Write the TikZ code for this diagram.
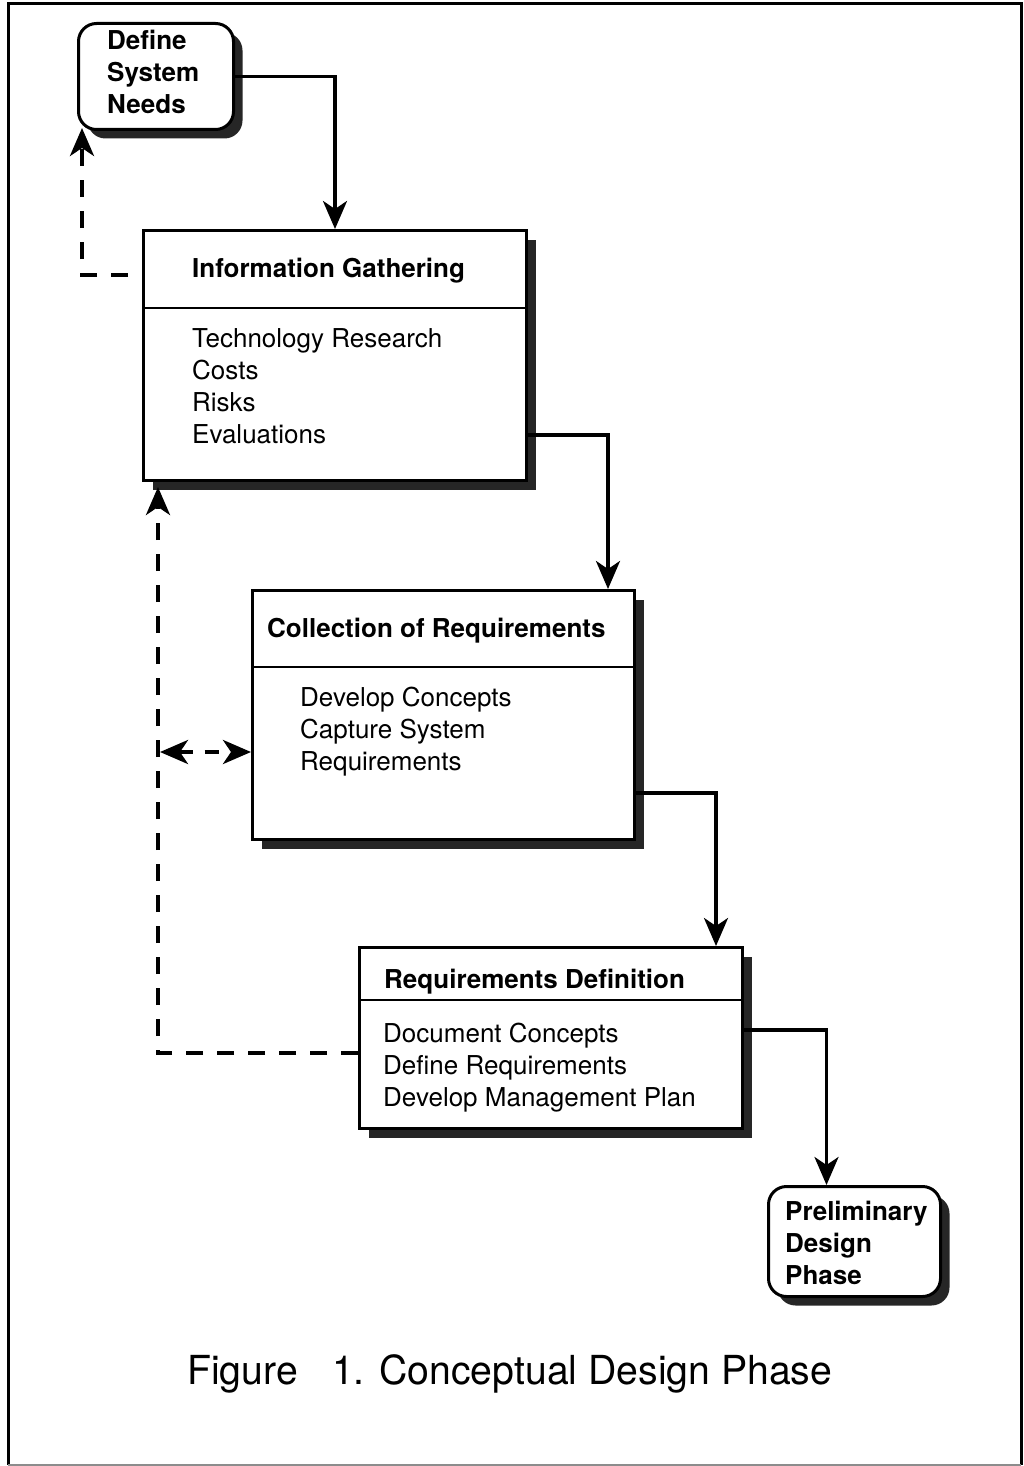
\documentclass[tikz,border=0pt]{standalone}
\usepackage{fontspec}
\setmainfont{TeX Gyre Heros}
\usetikzlibrary{arrows.meta,shadows,calc}

\tikzset{
  flowtip/.tip={Stealth[length=28pt,width=24pt,inset=8pt]},
  shadowed/.style={drop shadow={shadow xshift=9pt,shadow yshift=-9pt,fill=black!85,opacity=1}},
  stagebox/.style={draw,line width=3pt,fill=white,shadowed,anchor=north west,inner sep=0pt},
  endbox/.style={stagebox,rounded corners=18pt},
  rule/.style={line width=2.6pt},
  flow/.style={line width=3.4pt,-flowtip},
  feedback/.style={line width=4pt,dash pattern=on 17pt off 14pt,-flowtip},
  title/.style={font=\fontsize{26}{32}\selectfont\bfseries,anchor=base west,inner sep=0pt},
  items/.style={font=\fontsize{26}{32}\selectfont,align=left,anchor=base west,inner sep=0pt},
  endtext/.style={font=\fontsize{26}{32}\selectfont\bfseries,align=left,anchor=base west,inner sep=0pt},
}

\begin{document}
\begin{tikzpicture}[x=1pt,y=-1pt]
  \useasboundingbox (0,0) rectangle (1024,1466);
  \fill[white] (0,0) rectangle (1024,1466);

  % page frame
  \draw[line width=3pt] (1021,1465) -- (1021,4) -- (8,4) -- (8,1465);
  \draw[line width=2pt,black!45] (8,1465) -- (1021,1465);

  % start and end terminals (anchor: baseline of the last line)
  \node[endbox,minimum width=155pt,minimum height=106pt] (dsn) at (77,22) {};
  \node[endtext] (dsntext) at (107,114) {Define\\System\\Needs};

  \node[endbox,minimum width=172pt,minimum height=110pt] (pdp) at (767,1185) {};
  \node[endtext] (pdptext) at (785,1284) {Preliminary\\Design\\Phase};

  % stage boxes
  \node[stagebox,minimum width=383pt,minimum height=250pt] (info) at (142,229) {};
  \draw[rule] (info.west |- 0,308) -- (info.east |- 0,308);
  \node[title] (infotitle) at (192,277) {Information Gathering};
  \node[items] (infoitems) at (192,443) {Technology Research\\Costs\\Risks\\Evaluations};

  \node[stagebox,minimum width=382pt,minimum height=249pt] (coll) at (251,589) {};
  \draw[rule] (coll.west |- 0,667) -- (coll.east |- 0,667);
  \node[title] (colltitle) at (267,637) {Collection of Requirements};
  \node[items] (collitems) at (300,770) {Develop Concepts\\Capture System\\Requirements};

  \node[stagebox,minimum width=383pt,minimum height=181pt] (rdef) at (358,946) {};
  \draw[rule] (rdef.west |- 0,1000) -- (rdef.east |- 0,1000);
  \node[title] (rdeftitle) at (384,988) {Requirements Definition};
  \node[items] (rdefitems) at (383,1106) {Document Concepts\\Define Requirements\\Develop Management Plan};

  % forward flow
  \draw[flow] (dsn.east) -| (info.north);
  \draw[flow] ([yshift=47pt]info.south east) -| ([xshift=-28pt]coll.north east);
  \draw[flow] ([yshift=48pt]coll.south east) -| ([xshift=-28pt]rdef.north east);
  \draw[flow] ([yshift=100pt]rdef.south east) -| ([xshift=-28pt]pdp.north);

  % feedback paths
  \draw[feedback,dash phase=17pt] ([yshift=-46pt]info.north west) -| ([xshift=5pt,yshift=3pt]dsn.south west);
  \draw[feedback,dash phase=0pt] ([yshift=77pt]rdef.south west) -| ([xshift=16pt,yshift=-5pt]info.south west);
  \coordinate (tap) at (160,752);
  \draw[line width=4pt,dash pattern=on 14pt off 12pt,flowtip-flowtip] (tap) -- (coll.west |- tap);

  % caption
  \node[font=\fontsize{40}{48}\selectfont,anchor=base west,inner sep=0pt,xscale=0.98] (caption) at (187,1384) {Figure\hspace{35pt}1. Conceptual Design Phase};
\end{tikzpicture}
\end{document}
